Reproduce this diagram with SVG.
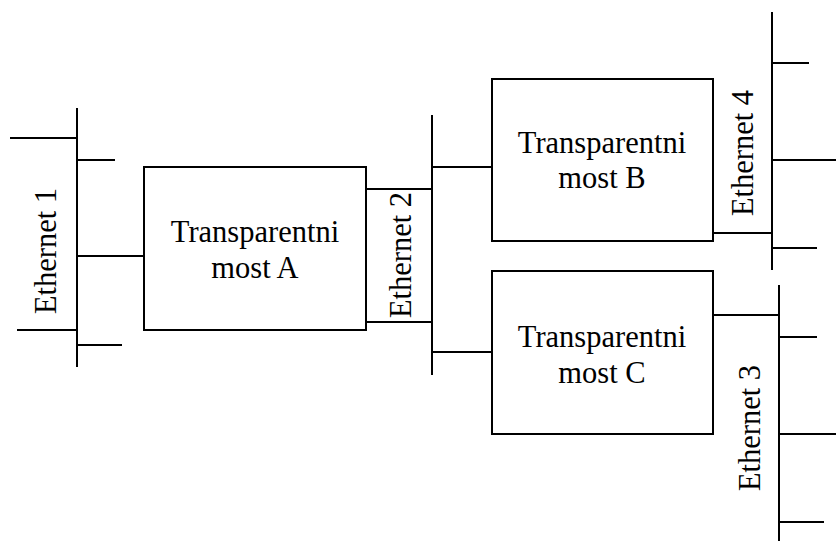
<svg xmlns="http://www.w3.org/2000/svg" width="836" height="541" viewBox="0 0 836 541">
  <style>
    .ln { stroke: #000; stroke-width: 2; fill: none; stroke-linecap: butt; }
    .box { stroke: #000; stroke-width: 2; fill: #fff; }
    .lbl { font-family: "Liberation Serif", "Times New Roman", serif; font-size: 30.5px; fill: #000; text-anchor: middle; }
  </style>
  <rect width="836" height="541" fill="#fff"/>

  <!-- Ethernet segments (buses with station stubs) and links to bridges -->
  <g id="connectors">
    <!-- Ethernet 1 -->
    <line class="ln" x1="77" y1="108" x2="77" y2="367"/>
    <line class="ln" x1="10" y1="138" x2="77" y2="138"/>
    <line class="ln" x1="77" y1="160" x2="115" y2="160"/>
    <line class="ln" x1="17" y1="330" x2="77" y2="330"/>
    <line class="ln" x1="77" y1="345" x2="122" y2="345"/>
    <line class="ln" x1="77" y1="256" x2="144" y2="256"/>
    <!-- Ethernet 2 -->
    <line class="ln" x1="432" y1="115" x2="432" y2="375"/>
    <line class="ln" x1="366" y1="189" x2="432" y2="189"/>
    <line class="ln" x1="366" y1="322" x2="432" y2="322"/>
    <line class="ln" x1="432" y1="167" x2="492" y2="167"/>
    <line class="ln" x1="432" y1="352" x2="492" y2="352"/>
    <!-- Ethernet 4 -->
    <line class="ln" x1="772" y1="12" x2="772" y2="270"/>
    <line class="ln" x1="772" y1="63" x2="809" y2="63"/>
    <line class="ln" x1="772" y1="160" x2="836" y2="160"/>
    <line class="ln" x1="713" y1="233" x2="772" y2="233"/>
    <line class="ln" x1="772" y1="248" x2="817" y2="248"/>
    <!-- Ethernet 3 -->
    <line class="ln" x1="779" y1="285" x2="779" y2="541"/>
    <line class="ln" x1="713" y1="315" x2="779" y2="315"/>
    <line class="ln" x1="779" y1="337" x2="817" y2="337"/>
    <line class="ln" x1="779" y1="434" x2="836" y2="434"/>
    <line class="ln" x1="779" y1="522" x2="824" y2="522"/>
  </g>

  <!-- Segment labels -->
  <g id="ethernet1">
    <text class="lbl" transform="translate(56,251) rotate(-90)">Ethernet 1</text>
  </g>
  <g id="ethernet2">
    <text class="lbl" transform="translate(411,255) rotate(-90)">Ethernet 2</text>
  </g>
  <g id="ethernet3">
    <text class="lbl" transform="translate(760,428) rotate(-90)">Ethernet 3</text>
  </g>
  <g id="ethernet4">
    <text class="lbl" transform="translate(753,153) rotate(-90)">Ethernet 4</text>
  </g>

  <!-- Bridges -->
  <g id="bridgeA">
    <rect class="box" x="144" y="167" width="222" height="163"/>
    <text class="lbl" x="255" y="241.5">Transparentni</text>
    <text class="lbl" x="255" y="278">most A</text>
  </g>
  <g id="bridgeB">
    <rect class="box" x="492" y="79" width="221" height="162"/>
    <text class="lbl" x="602" y="152.5">Transparentni</text>
    <text class="lbl" x="602" y="188">most B</text>
  </g>
  <g id="bridgeC">
    <rect class="box" x="492" y="271" width="221" height="163"/>
    <text class="lbl" x="602" y="346.5">Transparentni</text>
    <text class="lbl" x="602" y="383">most C</text>
  </g>
</svg>
